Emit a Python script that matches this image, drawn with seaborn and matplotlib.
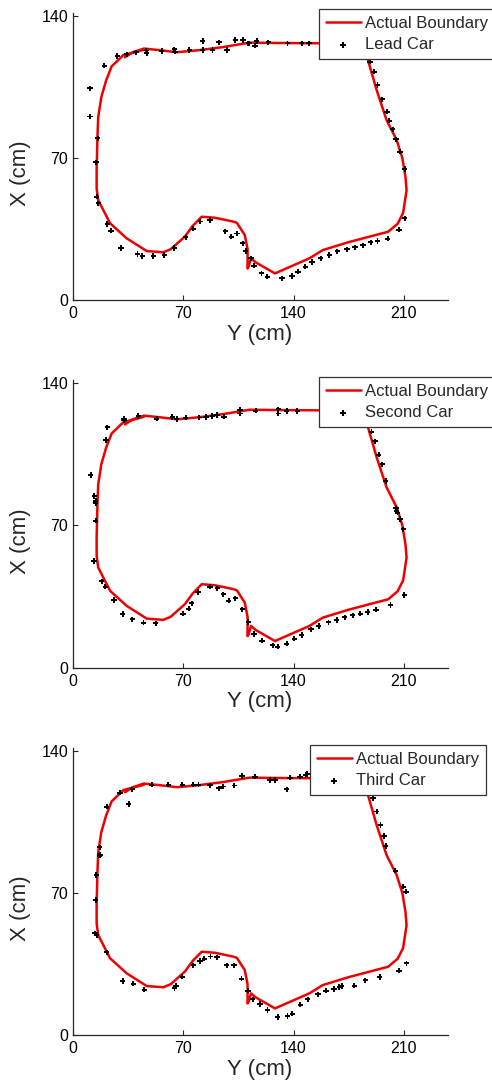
import matplotlib
matplotlib.use("Agg")
import matplotlib.pyplot as plt
import seaborn as sns

# ---------------- data (Y = horizontal, X = vertical, cm) ----------------
boundary_y = [33, 38, 45, 55, 66, 80, 95, 112, 135, 157, 175, 183, 187, 192.7, 199, 205.4,
              209, 211, 211.7, 209.5, 206, 200, 175, 158.6, 150, 128.2, 116, 113, 111.5,
              110.8, 110.8, 109, 104, 101.7, 90, 81.7, 76, 71, 62, 57.3, 46.8, 34, 23.5,
              16, 15, 15, 15.5, 16, 18, 21, 24.5, 32, 38, 45]
boundary_x = [119.5, 122, 123.8, 123, 122, 123, 124.5, 126.7, 126.5, 126.4, 126, 124, 118.7,
              103.4, 88.6, 78.8, 70, 60.7, 54, 42.8, 37.5, 33.6, 28.5, 24.6, 20.5, 13.1,
              18.5, 20.5, 16.5, 15.5, 25, 32, 38, 38.6, 40.5, 41, 36.5, 31.2, 25, 23.5,
              24.1, 30.4, 37.8, 49.2, 55, 64, 80, 90, 100, 108, 115, 120.6, 121.8, 123.2]

lead_y = [10.8, 10.8, 15.7, 14.6, 19.9, 28.1, 34.1, 40, 46.3, 46.8, 56.3, 64.3, 64.7, 73.8,
          82.3, 82.3, 88.6, 92.6, 97.7, 103, 108, 111.2, 111.7, 115.5, 116.6, 124, 136.2,
          145.1, 149.8, 188.5, 191, 193.3, 196.3, 199.4, 200.7, 202.9, 205, 207.5, 210.5,
          210.5, 206.9, 199.7, 193.3, 189, 184, 179, 173.9, 167.7, 162.6, 157.2, 151.8,
          147.4, 142.9, 139, 132.6, 123.3, 119.7, 114.8, 112.9, 109.6, 107.7, 104.2, 100.4,
          96.6, 86.9, 80.8, 76.3, 71.5, 64.3, 58, 51, 44, 40.9, 30.5, 24.1, 21.8, 16.1, 15]
lead_x = [104.2, 90.3, 79.6, 67.8, 115.4, 120.1, 121, 122, 122.8, 121.5, 122.6, 123.4, 122.2,
          123, 127.5, 123.1, 123.1, 126.9, 123.1, 128, 128, 126.4, 126.4, 125.2, 127.5,
          126.9, 126.4, 126.4, 126.4, 117.3, 112.4, 105.8, 98.8, 92.7, 88.3, 84, 79.1, 73,
          64.5, 40.2, 34.6, 30.2, 29, 28.4, 26.9, 26, 25, 24, 22.2, 20.5, 18.7, 16.4, 13.9,
          11.8, 10.7, 11.5, 13.1, 16.9, 20.5, 24.1, 27.9, 32.7, 31.2, 33.8, 39.4, 38.6, 35.1,
          30.9, 25.6, 22.2, 21.7, 21.7, 22.7, 25.6, 34.1, 37.4, 47.6, 50.9]

second_y = [11.2, 13.5, 14.4, 14.4, 14.4, 20.9, 21.8, 32.4, 32.4, 41.4, 53.1, 63, 65.8, 71.5,
            80.1, 84.4, 88.4, 91.5, 95.9, 105.9, 105.9, 115.9, 130.3, 130.3, 135.6, 142.3,
            189.5, 191.6, 194, 196.3, 198.4, 204.9, 205.4, 206, 207.5, 209.6, 210.2, 201.5,
            192.4, 187.1, 182.4, 177.5, 172.5, 167.4, 162.2, 156, 151.1, 145.2, 140.5, 135.6,
            129.9, 126.7, 119.9, 114.8, 111.2, 107.4, 103, 98.8, 95.4, 91.6, 86.9, 79.3, 75.3,
            73.4, 69.8, 52.5, 44.8, 37.6, 31.5, 26, 20.5, 18.2, 13.3]
second_x = [94.6, 84.3, 82, 80.7, 72.2, 111.8, 118.1, 122.3, 121.7, 123.6, 122.3, 123.1, 122.1,
            122.8, 122.9, 123.1, 123.6, 124.1, 123.3, 126.7, 124.9, 126.2, 126.9, 124.9, 126.1,
            126.1, 115.9, 111.2, 104.6, 99.9, 91.7, 78.3, 77.1, 76.1, 73, 68, 35.7, 30.8, 28.5,
            27.4, 26.5, 25.7, 24.8, 23.4, 22.3, 20.4, 18.9, 16.1, 14.2, 11.8, 10.3, 11, 13.3,
            16.6, 22.4, 28.7, 34.1, 32.9, 36.1, 39, 39.8, 37.2, 31.6, 29, 26.5, 21.8, 22.1,
            23.8, 26.4, 33.3, 39.8, 42.4, 52.4]

third_y = [14.4, 14.8, 16.7, 17.1, 16.9, 21.4, 29.8, 35.3, 37.6, 49.9, 60.5, 69.4, 76.4, 79.6,
           87, 92.7, 95.1, 102.4, 107.2, 115.5, 125, 128.2, 135.6, 137.7, 144, 147.6, 148.7,
           190.5, 192.7, 195.2, 197.5, 198.4, 204.5, 209.6, 211.3, 211.7, 206.9, 194.7, 185.5,
           178.5, 170.5, 169, 165.6, 160.5, 155.5, 148.9, 144.3, 139.2, 136.2, 129.9, 123.5,
           118.7, 114, 111, 107, 102.3, 97.5, 91.5, 87.3, 83.3, 80.6, 76.4, 69.4, 65.3, 64.4,
           45.3, 38.3, 31.5, 21.4, 15, 14]
third_x = [66.5, 78.8, 88.3, 88.6, 92.4, 112.4, 119.3, 113.7, 121, 123.2, 123.2, 123.2, 123.2,
           123.2, 122.9, 121.5, 122.3, 122.8, 127.6, 127.2, 125.6, 125.6, 121, 126.7, 127.2,
           128, 128.5, 116.7, 110, 103.4, 98, 93.1, 80.9, 73, 70.6, 35.3, 31.7, 28.6, 26.9,
           24.3, 24.1, 23.7, 22.6, 21.8, 20, 17.6, 14.9, 10.5, 9.3, 8.9, 12.3, 15.3, 17.6,
           21.8, 27.7, 34.3, 34.3, 38.3, 38.6, 37.6, 36.4, 34.3, 28.7, 24.1, 23.1, 22.3, 25.3,
           26.6, 40.7, 49.1, 50.1]

car_names = ["Lead Car", "Second Car", "Third Car"]
car_y = [lead_y, second_y, third_y]
car_x = [lead_x, second_x, third_x]
boundary_label = "Actual Boundary"
x_ticks = [0, 70, 140, 210]
y_ticks = [0, 70, 140]

# ---------------- style ----------------
sns.set_theme(style="ticks")
plt.rcParams['font.family'] = ['Liberation Sans', 'DejaVu Sans']

W, H = 492, 1083
fig = plt.figure(figsize=(W / 100, H / 100), dpi=100)

# axes rectangles in pixels: (left, top, right, bottom)
axes_px = [(73, 12.6, 448, 300), (73, 379.6, 448, 667.7), (73, 747.6, 448, 1035)]
legend_px = [(319, 9), (319, 377), (310, 745)]

for i in range(3):
    l, t, r, b = axes_px[i]
    ax = fig.add_axes([l / W, 1 - b / H, (r - l) / W, (b - t) / H])
    sns.lineplot(x=boundary_y, y=boundary_x, sort=False, estimator=None, color="#ee0000",
                 linewidth=1.8, ax=ax, label=boundary_label)
    sns.scatterplot(x=car_y[i], y=car_x[i], marker="P", s=15, color="black",
                    edgecolor="none", ax=ax, label=car_names[i], zorder=3)
    ax.set_xlim(0, 238)
    ax.set_ylim(0, 141.5)
    ax.set_xticks(x_ticks)
    ax.set_yticks(y_ticks)
    sns.despine(ax=ax)
    for s in ("left", "bottom"):
        ax.spines[s].set_color("#262626")
        ax.spines[s].set_linewidth(0.9)
    ax.tick_params(direction="in", length=3.5, width=0.8, colors="#262626",
                   labelcolor="black", labelsize=11.5)
    ax.tick_params(axis="x", pad=4.5)
    ax.tick_params(axis="y", pad=3.5)
    ax.set_xlabel("Y (cm)", fontsize=16)
    ax.set_ylabel("X (cm)", fontsize=16)
    ax.xaxis.set_label_coords(0.497, -0.082)
    ax.yaxis.set_label_coords(-0.112, 0.44)

    handles, labels = ax.get_legend_handles_labels()
    lx, ly = legend_px[i]
    leg = ax.legend(handles, labels, loc="upper left",
                    bbox_to_anchor=(lx / W, 1 - ly / H), bbox_transform=fig.transFigure,
                    borderaxespad=0, fontsize=12, frameon=True, fancybox=False,
                    framealpha=1, edgecolor="#333333", borderpad=0.4,
                    labelspacing=0.4, handlelength=2.1, handletextpad=0.25,
                    markerscale=1.0)
    leg.get_frame().set_linewidth(0.9)

fig.savefig("out.png", dpi=100)
